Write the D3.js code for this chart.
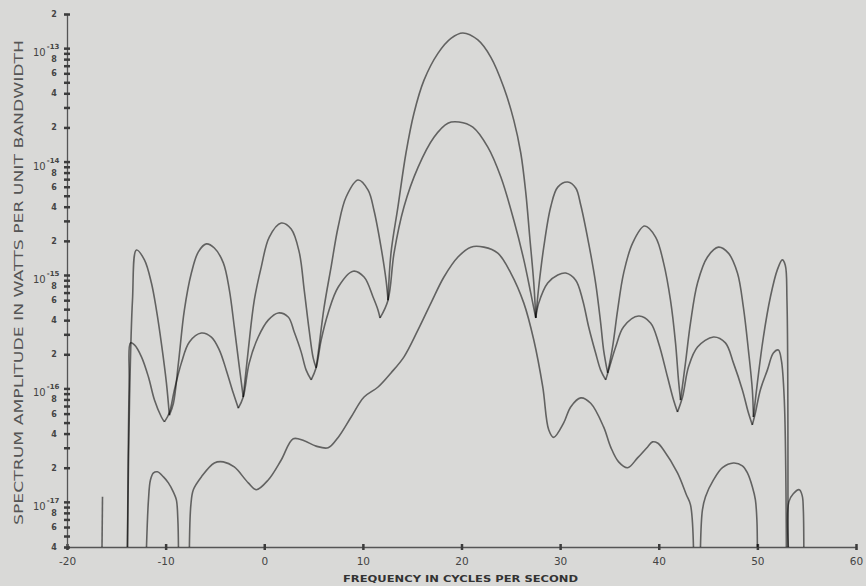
<!DOCTYPE html>
<html>
<head>
<meta charset="utf-8">
<script src="https://cdn.jsdelivr.net/npm/d3@7"></script>
<style>
  body { margin: 0; background: #d9d9d7; }
  svg { display: block; }
</style>
</head>
<body>
<div id="chart"></div>
<script>
// axis ticks
const xTicks = [-20, -10, 0, 10, 20, 30, 40, 50, 60];
const decadeExps = [-13, -14, -15, -16, -17];
const minorLabelDigits = [2, 4, 6, 8];

// [frequency, amplitude], one array per lobe
const topLobes = [
  [[-13.87,4e-18],[-13.66,7.9e-17],[-13.36,6.0e-16],[-12.96,1.66e-15],[-12.15,1.36e-15],[-11.44,8.5e-16],[-10.93,4.9e-16],[-10.43,2.5e-16],[-9.92,1.12e-16],[-9.62,5.8e-17]],
  [[-9.62,5.8e-17],[-9.21,7.4e-17],[-8.70,1.68e-16],[-8.10,4.9e-16],[-7.39,1.04e-15],[-6.68,1.6e-15],[-5.87,1.88e-15],[-5.06,1.73e-15],[-4.15,1.28e-15],[-3.54,7.4e-16],[-3.04,3.5e-16],[-2.53,1.55e-16],[-2.13,8.4e-17]],
  [[-2.13,8.4e-17],[-1.62,2.18e-16],[-1.01,6.0e-16],[-0.30,1.18e-15],[0.51,2.16e-15],[1.72,2.87e-15],[2.73,2.54e-15],[3.54,1.6e-15],[4.05,7.4e-16],[4.55,3.28e-16],[4.96,1.86e-16],[5.26,1.52e-16]],
  [[5.26,1.52e-16],[5.47,2.05e-16],[6.07,5.2e-16],[6.78,1.18e-15],[7.49,2.65e-15],[8.30,4.87e-15],[9.51,6.87e-15],[10.53,5.6e-15],[11.13,3.7e-15],[11.84,1.76e-15],[12.35,9.0e-16],[12.55,6.0e-16]],
  [[12.55,6.0e-16],[12.85,1.56e-15],[13.56,4.0e-15],[14.37,1.19e-14],[15.18,2.67e-14],[16.19,5.2e-14],[17.61,9.0e-14],[18.93,1.22e-13],[20.14,1.36e-13],[21.66,1.18e-13],[22.98,8.3e-14],[24.29,4.5e-14],[25.30,2.32e-14],[26.01,1.19e-14],[26.52,5.3e-15],[26.92,2.16e-15],[27.33,8.5e-16],[27.53,4.2e-16]],
  [[27.53,4.2e-16],[27.83,7.8e-16],[28.34,1.76e-15],[29.05,4.0e-15],[29.76,5.95e-15],[30.77,6.6e-15],[31.58,5.85e-15],[32.09,4.14e-15],[32.89,1.91e-15],[33.60,8.5e-16],[34.11,3.78e-16],[34.41,2.18e-16],[34.82,1.37e-16]],
  [[34.82,1.37e-16],[35.32,2.32e-16],[35.83,4.9e-16],[36.44,1.04e-15],[37.35,1.91e-15],[38.56,2.7e-15],[39.68,2.16e-15],[40.49,1.28e-15],[41.19,6.0e-16],[41.70,2.52e-16],[42.00,1.19e-16],[42.21,7.9e-17]],
  [[42.21,7.9e-17],[42.71,1.68e-16],[43.22,3.78e-16],[43.93,8.5e-16],[44.94,1.44e-15],[46.05,1.76e-15],[47.06,1.56e-15],[47.98,1.04e-15],[48.58,5.2e-16],[49.09,2.18e-16],[49.49,9.7e-17],[49.60,5.6e-17]],
  [[49.60,5.6e-17],[50.0,1.12e-16],[50.61,2.84e-16],[51.32,6.4e-16],[52.02,1.11e-15],[52.53,1.36e-15],[52.83,1.22e-15],[53.0,6.0e-16],[53.1,4e-18]]
];

const midLobes = [
  [[-13.87,4e-18],[-13.70,1.2e-16],[-13.56,2.52e-16],[-13.16,2.42e-16],[-12.45,1.9e-16],[-11.74,1.26e-16],[-11.13,7.9e-17],[-10.43,5.6e-17],[-10.12,5.07e-17]],
  [[-10.12,5.07e-17],[-9.62,6.1e-17],[-9.11,9.7e-17],[-8.40,1.68e-16],[-7.59,2.57e-16],[-6.38,3.08e-16],[-5.36,2.84e-16],[-4.55,2.18e-16],[-3.85,1.45e-16],[-3.14,9.1e-17],[-2.63,6.7e-17]],
  [[-2.63,6.7e-17],[-2.13,8.4e-17],[-1.52,1.68e-16],[-0.61,2.84e-16],[0.40,4.0e-16],[1.42,4.63e-16],[2.43,4.26e-16],[3.04,3.14e-16],[3.74,2.1e-16],[4.25,1.45e-16],[4.76,1.19e-16]],
  [[4.76,1.19e-16],[5.26,1.52e-16],[5.77,2.67e-16],[6.48,4.63e-16],[7.49,7.8e-16],[9.01,1.08e-15],[10.12,9.6e-16],[11.03,6.4e-16],[11.54,4.9e-16],[11.74,4.18e-16]],
  [[11.74,4.18e-16],[12.55,6.0e-16],[13.16,1.56e-15],[14.17,4.0e-15],[15.59,8.9e-15],[17.21,1.64e-14],[18.62,2.18e-14],[19.74,2.23e-14],[21.15,2.01e-14],[22.67,1.34e-14],[23.99,7.3e-15],[25.30,3.05e-15],[26.32,1.36e-15],[27.02,6.95e-16],[27.53,4.18e-16]],
  [[27.53,4.18e-16],[27.83,5.65e-16],[28.74,8.5e-16],[29.76,1.0e-15],[30.57,1.04e-15],[31.58,9.0e-16],[32.29,6.0e-16],[32.89,3.5e-16],[33.60,2.05e-16],[34.11,1.45e-16],[34.62,1.19e-16]],
  [[34.62,1.19e-16],[34.92,1.45e-16],[35.63,2.32e-16],[36.44,3.5e-16],[37.96,4.35e-16],[39.17,3.78e-16],[39.98,2.52e-16],[40.89,1.26e-16],[41.50,7.9e-17],[41.90,6.2e-17]],
  [[41.90,6.2e-17],[42.41,8.4e-17],[43.02,1.55e-16],[43.93,2.32e-16],[45.55,2.84e-16],[46.76,2.52e-16],[47.57,1.68e-16],[48.48,9.7e-17],[49.09,6.1e-17],[49.49,4.77e-17]],
  [[49.49,4.77e-17],[49.80,6.1e-17],[50.30,9.7e-17],[51.01,1.45e-16],[51.62,2.05e-16],[52.13,2.18e-16],[52.43,1.78e-16],[52.73,7.9e-17],[52.94,4e-18]]
];

const lowLobes = [
  [[-16.45,4e-18],[-16.40,1.11e-17]],
  [[-11.94,4e-18],[-11.74,1.04e-17],[-11.54,1.56e-17],[-11.23,1.8e-17],[-10.83,1.84e-17],[-10.22,1.66e-17],[-9.72,1.47e-17],[-9.21,1.22e-17],[-8.91,1.04e-17],[-8.76,6.95e-18],[-8.70,4e-18]],
  [[-7.59,4e-18],[-7.44,9.4e-18],[-7.19,1.28e-17],[-6.38,1.66e-17],[-5.06,2.2e-17],[-4.15,2.25e-17],[-3.04,2.03e-17],[-1.62,1.47e-17],[-0.81,1.28e-17],[0.40,1.56e-17],[1.72,2.34e-17],[2.94,3.6e-17],[4.05,3.45e-17],[5.26,3.1e-17],[6.48,3.0e-17],[7.49,3.7e-17],[8.81,5.6e-17],[10.12,8.4e-17],[11.54,1.03e-16],[12.85,1.37e-16],[14.17,1.9e-16],[15.59,3.28e-16],[16.90,5.65e-16],[18.22,9.6e-16],[19.64,1.44e-15],[20.95,1.76e-15],[22.27,1.76e-15],[23.68,1.56e-15],[25.00,1.04e-15],[26.32,5.65e-16],[27.33,2.67e-16],[28.24,1.03e-16],[28.85,4.3e-17],[29.35,3.7e-17],[30.36,4.96e-17],[31.07,6.87e-17],[32.09,8.25e-17],[33.10,7.4e-17],[34.41,4.58e-17],[35.12,3.05e-17],[35.93,2.25e-17],[36.84,2.0e-17],[37.85,2.44e-17],[38.87,3.05e-17],[39.37,3.38e-17],[39.88,3.3e-17],[40.49,2.87e-17],[41.90,1.8e-17],[42.81,1.15e-17],[43.22,9.4e-18],[43.52,4e-18]],
  [[44.23,4e-18],[44.43,8.5e-18],[44.74,1.11e-17],[45.55,1.56e-17],[46.46,2.0e-17],[47.57,2.2e-17],[48.48,2.08e-17],[48.99,1.8e-17],[49.49,1.36e-17],[49.80,1.04e-17],[49.95,6.95e-18],[50.0,4e-18]],
  [[53.14,4e-18],[53.19,1.0e-17],[53.64,1.18e-17],[54.25,1.28e-17],[54.55,1.13e-17],[54.66,8.5e-18],[54.71,4e-18]]
];

const width = 866, height = 586;

const svg = d3.select("#chart").append("svg")
    .attr("width", width)
    .attr("height", height)
    .style("background", "#d9d9d7");

const x = d3.scaleLinear().domain([-20, 60]).range([67, 856]);
const y = d3.scaleLog().domain([4e-18, 2e-13]).range([547, 14]);

const ink = "#3c3c3c";
const font = "'DejaVu Sans', sans-serif";

// x axis
const xAxisG = svg.append("g")
    .attr("transform", "translate(0," + y(4e-18) + ")")
    .call(d3.axisBottom(x).tickValues(xTicks).tickSize(3).tickPadding(8)
        .tickFormat(d => d));
xAxisG.select(".domain").attr("stroke", "#555").attr("stroke-width", 1.3);
xAxisG.selectAll(".tick line").attr("stroke", ink).attr("stroke-width", 2.5).attr("y1", -3).attr("y2", 3);
xAxisG.selectAll(".tick text")
    .attr("fill", "#444").attr("font-family", font).attr("font-size", 10.5);

// y axis, minor ticks 1..9 per decade
const yTickVals = [];
[-18, ...decadeExps.slice().reverse()].forEach(e => {
    for (let m = 1; m <= 9; m++) {
        const v = m * Math.pow(10, e);
        if (v >= 4e-18 * 0.999 && v <= 2e-13 * 1.001) yTickVals.push(v);
    }
});
const yAxisG = svg.append("g")
    .attr("transform", "translate(" + x(-20) + ",0)")
    .call(d3.axisLeft(y).tickValues(yTickVals).tickSize(3).tickFormat(""));
yAxisG.select(".domain").attr("stroke", "#555").attr("stroke-width", 1.3);
yAxisG.selectAll(".tick line").attr("stroke", ink).attr("stroke-width", 2.5).attr("x1", -3).attr("x2", 3);

// decade labels 10^-n
decadeExps.forEach(e => {
    const t = svg.append("text")
        .attr("x", 33).attr("y", y(Math.pow(10, e)) + 8)
        .attr("fill", "#444").attr("font-family", font).attr("font-size", 10);
    t.append("tspan").text("10");
    t.append("tspan").attr("dx", 1).attr("dy", -7).attr("font-size", 7).attr("font-weight", "bold").text(String(e));
});

// minor digit labels
const minorVals = [];
[-18, ...decadeExps.slice().reverse(), -12].forEach(e => {
    minorLabelDigits.forEach(d => {
        const v = d * Math.pow(10, e);
        if (v >= 4e-18 * 0.999 && v <= 2e-13 * 1.001) minorVals.push({d, v});
    });
});
svg.append("g").selectAll("text")
    .data(minorVals)
    .join("text")
    .attr("x", 54).attr("y", d => y(d.v) + 3)
    .attr("text-anchor", "middle")
    .attr("fill", "#444").attr("font-family", font).attr("font-size", 8).attr("font-weight", "bold")
    .text(d => d.d);

// axis titles
svg.append("text")
    .attr("x", 343).attr("y", 582)
    .attr("textLength", 235).attr("lengthAdjust", "spacingAndGlyphs")
    .attr("fill", "#333").attr("font-family", font).attr("font-size", 9).attr("font-weight", "bold")
    .text("FREQUENCY IN CYCLES PER SECOND");

svg.append("text")
    .attr("transform", "translate(23,525) rotate(-90)")
    .attr("textLength", 485).attr("lengthAdjust", "spacingAndGlyphs")
    .attr("fill", "#555").attr("font-family", font).attr("font-size", 13)
    .text("SPECTRUM AMPLITUDE IN WATTS PER UNIT BANDWIDTH");

// curves
const line = d3.line()
    .x(d => x(d[0]))
    .y(d => y(d[1]))
    .curve(d3.curveCatmullRom.alpha(0.5));

const drawLobes = (lobes, cls) => {
    svg.append("g").attr("class", cls)
        .selectAll("path")
        .data(lobes)
        .join("path")
        .attr("d", line)
        .attr("fill", "none")
        .attr("stroke", "#000")
        .attr("stroke-opacity", 0.55)
        .attr("stroke-width", 1.6)
        .attr("stroke-linejoin", "round");
};
drawLobes(lowLobes, "lowG");
drawLobes(midLobes, "midG");
drawLobes(topLobes, "topG");
</script>
</body>
</html>
